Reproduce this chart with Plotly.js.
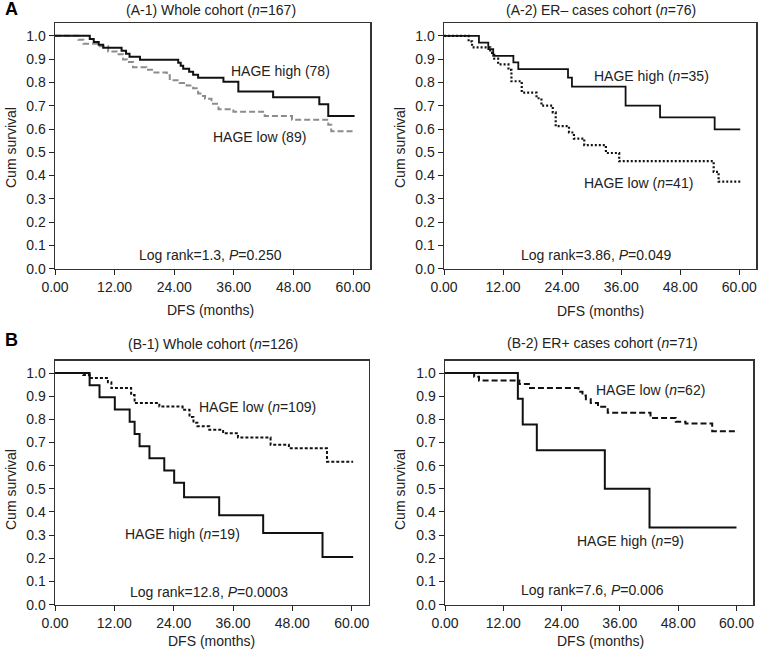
<!DOCTYPE html>
<html>
<head>
<meta charset="utf-8">
<script src="https://cdn.plot.ly/plotly-3.0.1.min.js"></script>
<style>html,body{margin:0;padding:0;background:#fff;}#chart{width:759px;height:651px;}</style>
</head>
<body>
<div id="chart"></div>
<script>
// ---- Data ----
// Panel A-1: Whole cohort (n=167)
const a1HighT = [0, 7.0, 7.8, 8.8, 9.7, 13.4, 14.3, 15.0, 17.1, 24.8, 25.3, 25.8, 27.0, 27.8, 28.8, 33.9, 36.9, 43.9, 53.2, 55.0, 60.3];
const a1HighS = [1, 0.987, 0.974, 0.962, 0.949, 0.936, 0.923, 0.910, 0.897, 0.885, 0.872, 0.859, 0.846, 0.833, 0.820, 0.803, 0.761, 0.736, 0.706, 0.656, 0.656];
const a1LowT = [0, 4.7, 5.7, 9.0, 10.7, 12.4, 13.7, 14.5, 15.7, 18.4, 19.8, 22.5, 23.1, 25.1, 26.5, 27.8, 28.8, 29.5, 30.2, 31.5, 32.9, 35.9, 42.2, 47.7, 55.0, 55.6, 60.3];
const a1LowS = [1, 0.983, 0.966, 0.955, 0.933, 0.921, 0.899, 0.888, 0.865, 0.854, 0.843, 0.831, 0.809, 0.798, 0.787, 0.775, 0.753, 0.742, 0.730, 0.708, 0.685, 0.674, 0.656, 0.640, 0.618, 0.590, 0.590];
// Panel A-2: ER- cases cohort (n=76)
const a2HighT = [0, 7.1, 9.0, 10.0, 14.1, 15.1, 25.2, 26.0, 36.9, 43.9, 55.0, 60.2];
const a2HighS = [1, 0.971, 0.943, 0.914, 0.886, 0.857, 0.821, 0.782, 0.700, 0.650, 0.598, 0.598];
const a2LowT = [0, 5.0, 5.7, 9.4, 10.2, 11.0, 13.1, 13.7, 15.8, 18.8, 19.8, 22.1, 22.7, 25.4, 26.4, 28.5, 32.9, 35.6, 54.8, 55.8, 60.2];
const a2LowS = [1, 0.976, 0.951, 0.927, 0.902, 0.878, 0.854, 0.805, 0.756, 0.732, 0.700, 0.671, 0.612, 0.585, 0.559, 0.531, 0.497, 0.462, 0.416, 0.374, 0.374];
// Panel B-1: Whole cohort (n=126)
const b1HighT = [0, 7.0, 9.0, 12.1, 15.1, 16.1, 17.1, 19.1, 22.1, 24.1, 26.1, 33.2, 42.1, 54.1, 60.3];
const b1HighS = [1, 0.947, 0.895, 0.842, 0.789, 0.737, 0.684, 0.632, 0.579, 0.526, 0.463, 0.386, 0.309, 0.206, 0.206];
const b1LowT = [0, 5.7, 7.0, 10.7, 11.4, 15.4, 16.1, 21.1, 25.8, 27.2, 28.0, 28.8, 31.2, 34.0, 37.0, 43.6, 47.3, 55.0, 60.3];
const b1LowS = [1, 0.991, 0.978, 0.960, 0.935, 0.905, 0.870, 0.855, 0.841, 0.810, 0.785, 0.770, 0.755, 0.740, 0.721, 0.690, 0.675, 0.617, 0.617];
// Panel B-2: ER+ cases cohort (n=71)
const b2HighT = [0, 15.0, 16.0, 18.9, 32.9, 42.1, 60.0];
const b2HighS = [1, 0.889, 0.778, 0.667, 0.500, 0.333, 0.333];
const b2LowT = [0, 6.0, 7.0, 15.3, 17.5, 27.5, 28.3, 29.0, 30.0, 31.5, 33.5, 42.3, 47.5, 49.5, 55.0, 60.3];
const b2LowS = [1, 0.984, 0.968, 0.952, 0.935, 0.919, 0.903, 0.887, 0.870, 0.854, 0.828, 0.806, 0.789, 0.782, 0.749, 0.749];

const panelTitles = ['(A-1) Whole cohort (<i>n</i>=167)', '(A-2) ER– cases cohort (<i>n</i>=76)', '(B-1) Whole cohort (<i>n</i>=126)', '(B-2) ER+ cases cohort (<i>n</i>=71)'];
const xTickVals = [0, 12, 24, 36, 48, 60];
const yTickVals = [0, 0.1, 0.2, 0.3, 0.4, 0.5, 0.6, 0.7, 0.8, 0.9, 1.0];

// ---- Plot ----
const FONT = 'Arial, "Liberation Sans", sans-serif';
const TXT = '#222';

function tr(x, y, ax, color, dash, width) {
  return {x: x, y: y, xaxis: 'x' + ax, yaxis: 'y' + ax, type: 'scatter', mode: 'lines',
    line: {shape: 'hv', color: color, dash: dash, width: width}, hoverinfo: 'skip', showlegend: false};
}
const data = [
  tr(a1LowT, a1LowS, '', '#8c8c8c', '6px,3px', 2),
  tr(a1HighT, a1HighS, '', '#111', 'solid', 2),
  tr(a2LowT, a2LowS, '2', '#111', '2px,2px', 2.2),
  tr(a2HighT, a2HighS, '2', '#111', 'solid', 1.8),
  tr(b1LowT, b1LowS, '3', '#111', '3px,2px', 2),
  tr(b1HighT, b1HighS, '3', '#111', 'solid', 2),
  tr(b2LowT, b2LowS, '4', '#111', '6px,3px', 2),
  tr(b2HighT, b2HighS, '4', '#111', 'solid', 2)
];

function xa(domain, anchor) {
  return {domain: domain, anchor: anchor, range: [0, 63.4], tickvals: xTickVals, tickformat: '.2f',
    ticks: 'outside', ticklen: 5, tickcolor: '#222', showline: true, linecolor: '#333', linewidth: 1.5,
    mirror: true, showgrid: false, zeroline: false, tickfont: {family: FONT, size: 14, color: TXT}, fixedrange: true};
}
function ya(domain, anchor) {
  return {domain: domain, anchor: anchor, range: [0, 1.054], tickvals: yTickVals, tickformat: '.1f',
    ticks: 'outside', ticklen: 5, tickcolor: '#222', showline: true, linecolor: '#333', linewidth: 1.5,
    mirror: true, showgrid: false, zeroline: false, tickfont: {family: FONT, size: 14, color: TXT}, fixedrange: true};
}

const W = 759, H = 651;
const px = v => v / W, py = v => 1 - v / H;

const ann = [];
function pa(text, x, y, opts) {
  ann.push(Object.assign({text: text, x: x, y: y, xref: 'paper', yref: 'paper', showarrow: false,
    font: {family: FONT, size: 14, color: TXT}, xanchor: 'center', yanchor: 'middle'}, opts || {}));
}
function da(text, x, y, ax) {
  ann.push({text: text, x: x, y: y, xref: 'x' + ax, yref: 'y' + ax, showarrow: false,
    font: {family: FONT, size: 14, color: TXT}, xanchor: 'center', yanchor: 'middle'});
}
// Panel letters
pa('<b>A</b>', px(11), py(9), {font: {family: FONT, size: 18, color: '#000'}});
pa('<b>B</b>', px(11), py(340), {font: {family: FONT, size: 18, color: '#000'}});
// Panel titles
pa(panelTitles[0], px(211), py(10));
pa(panelTitles[1], px(601), py(10));
pa(panelTitles[2], px(213), py(344));
pa(panelTitles[3], px(602), py(343));
// Axis titles
pa('Cum survival', px(11), py(148), {textangle: -90});
pa('Cum survival', px(400), py(148), {textangle: -90});
pa('Cum survival', px(11), py(490), {textangle: -90});
pa('Cum survival', px(400), py(490), {textangle: -90});
pa('DFS (months)', px(210), py(310));
pa('DFS (months)', px(600), py(311));
pa('DFS (months)', px(212), py(641));
pa('DFS (months)', px(600), py(641));
// In-plot labels
da('HAGE high (78)', 45.3, 0.85, '');
da('HAGE low (89)', 41.2, 0.566, '');
da('Log rank=1.3, <i>P</i>=0.250', 31.2, 0.058, '');
da('HAGE high (<i>n</i>=35)', 42.2, 0.827, '2');
da('HAGE low (<i>n</i>=41)', 39.6, 0.369, '2');
da('Log rank=3.86, <i>P</i>=0.049', 30.8, 0.058, '2');
da('HAGE low (<i>n</i>=109)', 40.9, 0.855, '3');
da('HAGE high (<i>n</i>=19)', 25.8, 0.307, '3');
da('Log rank=12.8, <i>P</i>=0.0003', 31.2, 0.055, '3');
da('HAGE low (<i>n</i>=62)', 42.2, 0.926, '4');
da('HAGE high (<i>n</i>=9)', 38.2, 0.273, '4');
da('Log rank=7.6, <i>P</i>=0.006', 30.3, 0.065, '4');

const layout = {
  width: W, height: H, margin: {l: 0, r: 0, t: 0, b: 0}, paper_bgcolor: '#fff', plot_bgcolor: '#fff',
  showlegend: false, font: {family: FONT, color: TXT},
  xaxis: xa([px(55), px(370)], 'y'), yaxis: ya([py(268.7), py(23.3)], 'x'),
  xaxis2: xa([px(444), px(756)], 'y2'), yaxis2: ya([py(268.7), py(23.3)], 'x2'),
  xaxis3: xa([px(55), px(368.5)], 'y3'), yaxis3: ya([py(604.6), py(360.5)], 'x3'),
  xaxis4: xa([px(445), px(753)], 'y4'), yaxis4: ya([py(604.6), py(360.5)], 'x4'),
  annotations: ann
};
Plotly.newPlot('chart', data, layout, {displayModeBar: false, staticPlot: true});
</script>
</body>
</html>
